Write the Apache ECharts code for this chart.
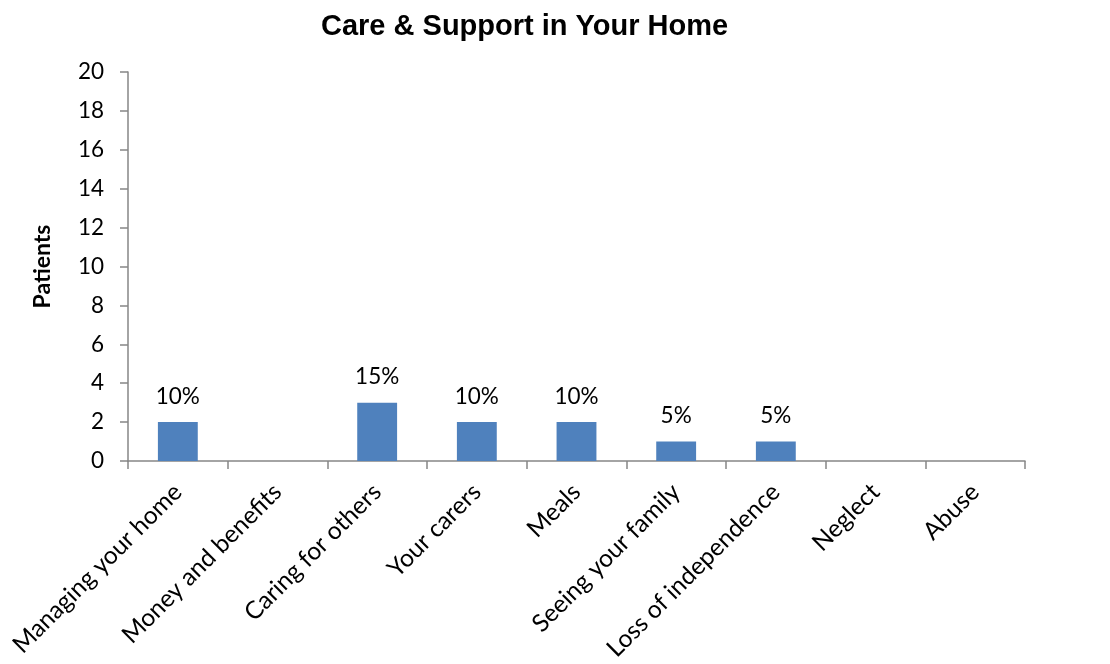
<!DOCTYPE html>
<html>
<head>
<meta charset="utf-8">
<script src="https://cdn.jsdelivr.net/npm/echarts@6/dist/echarts.min.js"></script>
<style>
  html, body { margin: 0; padding: 0; background: #fff; }
  #chart { width: 1110px; height: 664px; }
</style>
</head>
<body>
<div id="chart"></div>
<script>
// Topics raised under "Care & Support in Your Home"
const categories = [
  'Managing your home', 'Money and benefits', 'Caring for others', 'Your carers',
  'Meals', 'Seeing your family', 'Loss of independence', 'Neglect', 'Abuse'
];
// Number of patients per topic
const patients = [2, 0, 3, 2, 2, 1, 1, 0, 0];
// Total patients surveyed, used for the percentage labels
const totalPatients = 20;
const yTicks = { min: 0, max: 20, interval: 2 };

const axisGrey = '#868686';
const labelFont = 'Lato, "Open Sans", sans-serif';

const chart = echarts.init(document.getElementById('chart'), null, { renderer: 'canvas' });
chart.setOption({
  animation: false,
  title: {
    text: 'Care & Support in Your Home',
    left: 316,
    top: 7,
    textStyle: { fontFamily: '"Liberation Sans", Arial, sans-serif', fontWeight: 'bold', fontSize: 29, color: '#000' }
  },
  grid: { left: 128, right: 85, top: 72, bottom: 203, containLabel: false },
  xAxis: {
    type: 'category',
    data: categories,
    boundaryGap: true,
    axisLine: { lineStyle: { color: axisGrey, width: 1.5 } },
    axisTick: { show: true, length: 8, alignWithLabel: false, lineStyle: { color: axisGrey, width: 1.5 } },
    axisLabel: {
      rotate: 45, interval: 0, margin: 27,
      fontFamily: labelFont, fontSize: 24.5, color: '#000'
    },
    splitLine: { show: false }
  },
  yAxis: {
    type: 'value',
    min: yTicks.min, max: yTicks.max, interval: yTicks.interval,
    name: 'Patients',
    nameLocation: 'middle',
    nameGap: 74,
    nameRotate: 90,
    nameTextStyle: { fontFamily: labelFont, fontWeight: 'bold', fontSize: 23, color: '#000' },
    axisLine: { show: true, lineStyle: { color: axisGrey, width: 1.5 } },
    axisTick: { show: true, length: 8, inside: false, lineStyle: { color: axisGrey, width: 1.5 } },
    axisLabel: { margin: 24, fontFamily: labelFont, fontSize: 22.5, color: '#000' },
    splitLine: { show: false }
  },
  series: [{
    type: 'bar',
    data: patients,
    barWidth: '40%',
    itemStyle: { color: '#4f81bd' },
    label: {
      show: true,
      position: 'top',
      distance: 14,
      fontFamily: labelFont, fontSize: 22.5, color: '#000',
      formatter: p => p.value > 0 ? Math.round(p.value / totalPatients * 100) + '%' : ''
    }
  }]
});
</script>
</body>
</html>
